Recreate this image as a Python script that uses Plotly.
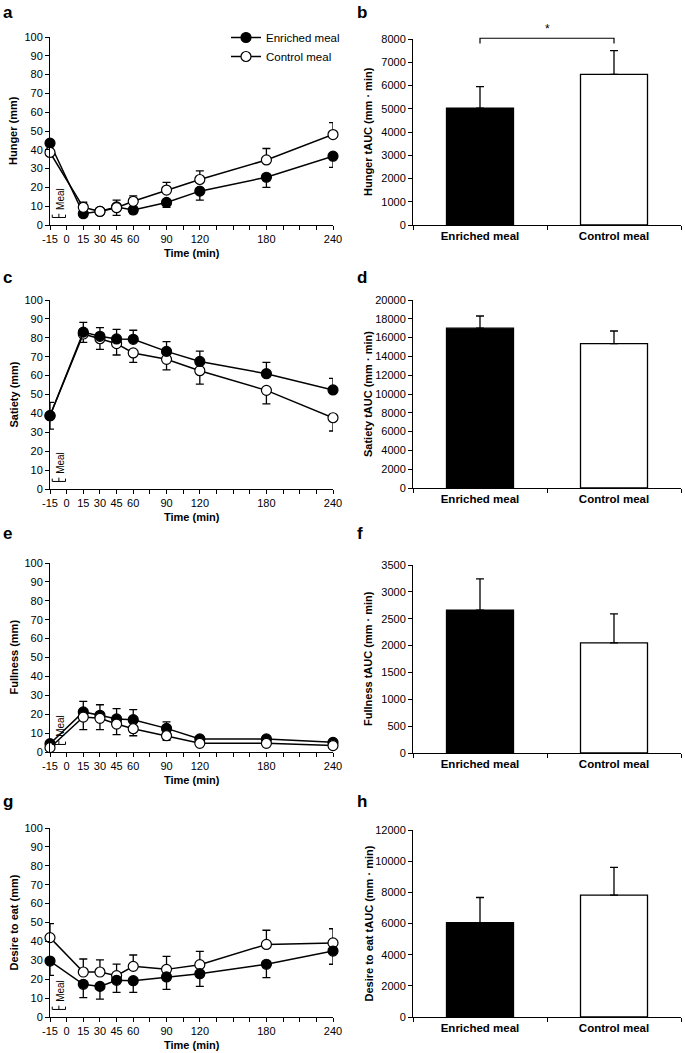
import plotly.graph_objects as go

W, H = 685, 1053

# time points (min) and x tick labels
times = [-15, 15, 30, 45, 60, 90, 120, 180, 240]
time_labels = [-15, 0, 15, 30, 45, 60, 90, 120, 180, 240]
meals = ["Enriched meal", "Control meal"]

# a: hunger (mm)
hunger_enriched = [43.5, 6.0, 7.3, 9.6, 8.0, 12.0, 18.0, 25.4, 36.6]
hunger_enriched_se = [4.0, 1.5, 1.5, 4.5, 2.0, 2.6, 4.8, 5.4, 5.9]
hunger_control = [38.6, 9.4, 7.2, 9.2, 12.6, 18.6, 24.2, 34.6, 48.1]
hunger_control_se = [4.0, 2.7, 1.5, 4.0, 2.9, 4.1, 4.6, 6.1, 6.4]
# c: satiety (mm)
satiety_enriched = [38.8, 83.0, 80.8, 79.4, 79.2, 72.8, 67.5, 61.0, 52.4]
satiety_enriched_se = [7.0, 5.2, 4.6, 5.1, 4.8, 5.2, 5.5, 6.0, 6.1]
satiety_control = [38.8, 82.0, 79.5, 76.9, 72.0, 68.6, 62.6, 52.2, 37.7]
satiety_control_se = [7.1, 4.4, 5.6, 6.0, 5.0, 5.6, 7.1, 7.2, 7.0]
# e: fullness (mm)
fullness_enriched = [4.4, 21.2, 19.4, 17.5, 17.1, 12.5, 6.9, 6.9, 5.1]
fullness_enriched_se = [1.5, 5.6, 5.6, 5.5, 5.3, 3.4, 1.5, 1.5, 1.2]
fullness_control = [2.3, 18.5, 17.8, 14.8, 12.3, 8.6, 4.6, 4.6, 3.4]
fullness_control_se = [1.0, 6.7, 6.0, 5.6, 3.7, 2.4, 1.0, 1.0, 1.0]
# g: desire to eat (mm)
desire_enriched = [29.6, 17.3, 16.2, 19.4, 19.2, 21.2, 22.9, 27.9, 34.9]
desire_enriched_se = [7.6, 7.1, 6.7, 6.4, 6.2, 6.6, 6.7, 7.1, 7.0]
desire_control = [42.0, 23.8, 23.8, 21.9, 26.8, 25.2, 27.7, 38.4, 39.2]
desire_control_se = [7.4, 6.9, 6.4, 6.1, 6.0, 6.9, 7.0, 7.5, 7.5]

# b, d, f, h: tAUC (mm * min), enriched / control
hunger_auc = [5030, 6480]
hunger_auc_se = [920, 1020]
satiety_auc = [17000, 15350]
satiety_auc_se = [1300, 1350]
fullness_auc = [2660, 2050]
fullness_auc_se = [580, 540]
desire_auc = [6060, 7820]
desire_auc_se = [1610, 1780]

FONT = "Liberation Sans"


def fx(p):
    return p / W


def fy(p):
    return 1 - p / H


rows = [
    dict(letters=("a", "b"), ytitle="Hunger (mm)", auc_title="Hunger tAUC (mm \u00b7 min)",
         enr=hunger_enriched, enr_se=hunger_enriched_se, ctl=hunger_control, ctl_se=hunger_control_se,
         control_up=True, control_on_top=True,
         auc=hunger_auc, auc_se=hunger_auc_se, auc_max=8000, auc_step=1000,
         line_px=(37, 225), bar_px=(39, 225), letter_y=12),
    dict(letters=("c", "d"), ytitle="Satiety (mm)", auc_title="Satiety tAUC (mm \u00b7 min)",
         enr=satiety_enriched, enr_se=satiety_enriched_se, ctl=satiety_control, ctl_se=satiety_control_se,
         control_up=False, control_on_top=False,
         auc=satiety_auc, auc_se=satiety_auc_se, auc_max=20000, auc_step=2000,
         line_px=(300, 489), bar_px=(300, 488), letter_y=278),
    dict(letters=("e", "f"), ytitle="Fullness (mm)", auc_title="Fullness tAUC (mm \u00b7 min)",
         enr=fullness_enriched, enr_se=fullness_enriched_se, ctl=fullness_control, ctl_se=fullness_control_se,
         control_up=False, control_on_top=True,
         auc=fullness_auc, auc_se=fullness_auc_se, auc_max=3500, auc_step=500,
         line_px=(563, 752), bar_px=(565, 753), letter_y=533),
    dict(letters=("g", "h"), ytitle="Desire to eat (mm)", auc_title="Desire to eat tAUC (mm \u00b7 min)",
         enr=desire_enriched, enr_se=desire_enriched_se, ctl=desire_control, ctl_se=desire_control_se,
         control_up=True, control_on_top=False,
         auc=desire_auc, auc_se=desire_auc_se, auc_max=12000, auc_step=2000,
         line_px=(828, 1017), bar_px=(830, 1017), letter_y=801),
]

LINE_X = (50, 333)
BAR_X = (413, 681)

fig = go.Figure()
layout = dict(shapes=[], annotations=[])
axis_common = dict(showline=True, linecolor="black", linewidth=1, ticks="outside", ticklen=4,
                   tickcolor="black", tickwidth=1, showgrid=False, zeroline=False, automargin=False,
                   tickfont=dict(family=FONT, size=11, color="black"))
all_ticks = list(range(-15, 241, 15))

for i, r in enumerate(rows):
    n_line, n_bar = 2 * i + 1, 2 * i + 2
    xl, yl = ("x" if n_line == 1 else f"x{n_line}"), ("y" if n_line == 1 else f"y{n_line}")
    xb, yb = f"x{n_bar}", f"y{n_bar}"

    def err(se, up):
        z = [0] * len(se)
        return dict(type="data", symmetric=False, array=se if up else z, arrayminus=z if up else se,
                    color="black", thickness=1.3, width=4)

    enr_trace = go.Scatter(x=times, y=r["enr"], name=meals[0], mode="lines+markers",
                           line=dict(color="black", width=1.5),
                           marker=dict(symbol="circle", size=10, color="black", line=dict(color="black", width=1.2)),
                           error_y=err(r["enr_se"], not r["control_up"]),
                           xaxis=xl, yaxis=yl, cliponaxis=False, showlegend=(i == 0), legendrank=1)
    ctl_trace = go.Scatter(x=times, y=r["ctl"], name=meals[1], mode="lines+markers",
                           line=dict(color="black", width=1.5),
                           marker=dict(symbol="circle", size=10, color="white", line=dict(color="black", width=1.2)),
                           error_y=err(r["ctl_se"], r["control_up"]),
                           xaxis=xl, yaxis=yl, cliponaxis=False, showlegend=(i == 0), legendrank=2)
    if r["control_on_top"]:
        fig.add_trace(enr_trace)
        fig.add_trace(ctl_trace)
    else:
        fig.add_trace(ctl_trace)
        fig.add_trace(enr_trace)

    fig.add_trace(go.Bar(x=meals, y=r["auc"], marker=dict(color=["black", "white"], line=dict(color="black", width=1.3)),
                         error_y=dict(type="data", symmetric=False, array=r["auc_se"], arrayminus=[0, 0],
                                      color="black", thickness=1.3, width=4),
                         xaxis=xb, yaxis=yb, showlegend=False, width=0.5))

    key_l = "" if n_line == 1 else str(n_line)
    t, b = r["line_px"]
    layout["xaxis" + key_l] = dict(axis_common, domain=[fx(LINE_X[0]), fx(LINE_X[1])], range=[-15, 240],
                                   anchor=yl, tickvals=all_ticks,
                                   ticktext=[str(v) if v in time_labels else "" for v in all_ticks])
    layout["yaxis" + key_l] = dict(axis_common, domain=[fy(b), fy(t)], range=[0, 100], dtick=10, anchor=xl)
    tb, bb = r["bar_px"]
    layout[f"xaxis{n_bar}"] = dict(axis_common, domain=[fx(BAR_X[0]), fx(BAR_X[1])], range=[-0.5, 1.5],
                                   anchor=yb, tickson="boundaries",
                                   tickfont=dict(family=FONT, size=11.5, color="black", weight="bold"))
    layout[f"yaxis{n_bar}"] = dict(axis_common, domain=[fy(bb), fy(tb)], range=[0, r["auc_max"]],
                                   dtick=r["auc_step"], tickformat="d", anchor=xb)

    # meal bracket
    layout["shapes"].append(dict(type="path", xref=xl, yref=yl,
                                 path="M -13,5.5 L -13,4 L -1,4 L -1,5.5 M -7,4 L -7,6",
                                 line=dict(color="black", width=1)))
    layout["annotations"].append(dict(text="Meal", x=-5, y=7, xref=xl, yref=yl, textangle=-90,
                                      xanchor="center", yanchor="bottom", showarrow=False,
                                      font=dict(family=FONT, size=10, color="black")))
    # axis titles
    ft = dict(family=FONT, size=11, color="black", weight="bold")
    centred = dict(xref="paper", yref="paper", xanchor="center", yanchor="middle", showarrow=False, font=ft)
    layout["annotations"].append(dict(centred, text=r["ytitle"], x=fx(13), y=fy((t + b) / 2), textangle=-90))
    layout["annotations"].append(dict(centred, text="Time (min)", x=fx(sum(LINE_X) / 2), y=fy(b + 28)))
    layout["annotations"].append(dict(centred, text=r["auc_title"], x=fx(368), y=fy((tb + bb) / 2), textangle=-90))
    # panel letters
    for lx, letter in zip((1, 355), r["letters"]):
        layout["annotations"].append(dict(text=letter, x=fx(lx), y=fy(r["letter_y"]), xref="paper", yref="paper",
                                          xanchor="left", yanchor="middle", showarrow=False,
                                          font=dict(family=FONT, size=17, color="black", weight="bold")))

# significance bracket in b
layout["shapes"].append(dict(type="path", xref="x2 domain", yref="y2 domain",
                             path="M 0.25,0.976 L 0.25,1.004 L 0.75,1.004 L 0.75,0.976",
                             line=dict(color="black", width=1.2)))
layout["annotations"].append(dict(text="*", x=0.5, y=1.006, xref="x2 domain", yref="y2 domain",
                                  xanchor="center", yanchor="bottom", showarrow=False,
                                  font=dict(family=FONT, size=12, color="black")))

fig.update_layout(
    width=W, height=H, margin=dict(l=0, r=0, t=0, b=0),
    paper_bgcolor="white", plot_bgcolor="white",
    font=dict(family=FONT, color="black"),
    legend=dict(x=fx(226), y=fy(23), xanchor="left", yanchor="top", bgcolor="rgba(0,0,0,0)",
                font=dict(family=FONT, size=11.5, color="black"), tracegroupgap=0),
    **layout,
)

# page body has a default 8px margin; drop it so the figure sits at the window origin
fig.write_html("out.html", config={"displayModeBar": False},
               post_script="document.body.style.margin='0';")
